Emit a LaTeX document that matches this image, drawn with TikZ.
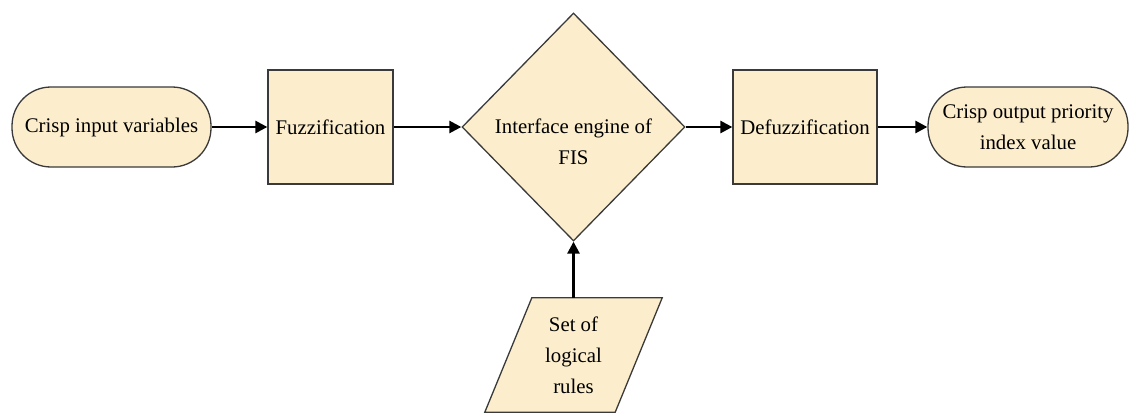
\documentclass[tikz,border=0pt]{standalone}
\usepackage{fontspec}
\setmainfont{Liberation Serif}
\usetikzlibrary{shapes.geometric,arrows.meta,backgrounds}
\definecolor{boxfill}{HTML}{FCEECC}
\definecolor{boxline}{HTML}{3A3A3A}
\begin{document}
\begin{tikzpicture}[x=1pt,y=-1pt,
  every node/.style={font=\fontsize{20.8}{31}\selectfont, inner sep=0pt, align=center},
  shapebox/.style={draw=boxline, fill=boxfill, line width=1.3pt},
  terminal/.style={shapebox, rectangle, rounded corners=39pt, minimum width=199pt, minimum height=80pt},
  procbox/.style={shapebox, rectangle, minimum height=114pt},
  decision/.style={shapebox, diamond, minimum width=223pt, minimum height=228pt},
  flow/.style={line width=2.6pt, -{Triangle[length=12pt,width=12pt]}}
]
\useasboundingbox (0,0) rectangle (1131,412);
\node[terminal] (in) at (111.5,127) {Crisp input variables};
\node[procbox, minimum width=125pt] (fuzz) at (330.5,127) {Fuzzification};
\node[decision] (fis) at (573.5,127) {};
\node (fistext) at (573.5,142) {Interface engine of\\FIS};
\node[procbox, minimum width=144pt] (defuzz) at (805,127) {Defuzzification};
\node[terminal, minimum width=200pt] (out) at (1028,127) {Crisp output priority\\index value};
\node[rectangle, minimum width=130pt, minimum height=114pt] (rules) at (573.5,355) {Set of\\logical\\rules};
\begin{pgfonlayer}{background}
\filldraw[shapebox] ([xshift=23.5pt]rules.north west) -- ([xshift=23.5pt]rules.north east)
  -- ([xshift=-23.5pt]rules.south east) -- ([xshift=-23.5pt]rules.south west) -- cycle;
\end{pgfonlayer}
\draw[flow] (in) -- (fuzz);
\draw[flow] (fuzz) -- (fis);
\draw[flow] (fis) -- (defuzz);
\draw[flow] (defuzz) -- (out);
\draw[flow] (rules.north) -- (fis.south);
\end{tikzpicture}
\end{document}
